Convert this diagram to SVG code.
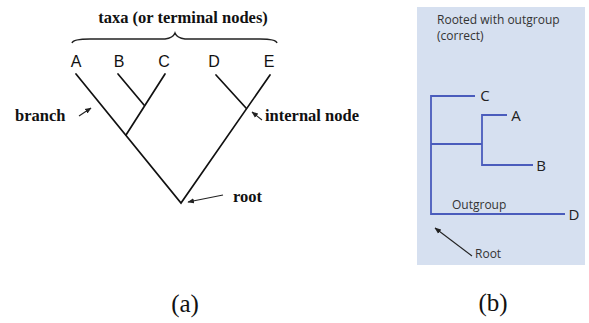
<svg xmlns="http://www.w3.org/2000/svg" width="589" height="323" viewBox="0 0 589 323">
<style>
.serifb{font-family:"Liberation Serif","Times New Roman",serif;font-weight:bold;font-size:16.5px;fill:#111}
.tax{font-family:"Liberation Sans",Arial,sans-serif;font-size:16px;fill:#111;text-anchor:middle}
.tb{font-family:"Open Sans","DejaVu Sans",sans-serif;font-size:15px;fill:#222;text-anchor:middle}
.cap{font-family:"Liberation Serif","Times New Roman",serif;font-size:25px;fill:#111;text-anchor:middle}
.bl{font-family:"Open Sans","DejaVu Sans",sans-serif;font-size:12px;fill:#333}
.br{stroke:#111;stroke-width:1.7;fill:none;stroke-linecap:round}
.bt{stroke:#4a5cbc;stroke-width:1.8;fill:none}
.ar{stroke:#222;stroke-width:1.1;fill:none}
</style>
<defs>
<marker id="ah" viewBox="0 0 10 10" refX="9" refY="5" markerWidth="6" markerHeight="6" orient="auto-start-reverse">
<path d="M0,1 L10,5 L0,9 z" fill="#222"/>
</marker>
</defs>
<rect width="589" height="323" fill="#fff"/>
<g id="panel-a">
<text class="serifb" x="183" y="23" text-anchor="middle">taxa (or terminal nodes)</text>
<path d="M72,43 Q73,39 90,39 L165,39 Q173,38 175,33 Q177,38 185,39 L260,39 Q276,39 277,43" stroke="#222" stroke-width="1.4" fill="none"/>
<g id="taxa">
<text class="tax" x="76" y="67">A</text>
<text class="tax" x="119" y="67">B</text>
<text class="tax" x="164" y="67">C</text>
<text class="tax" x="214" y="67">D</text>
<text class="tax" x="269" y="67">E</text>
</g>
<g id="tree-a">
<path class="br" d="M76,74 L181,203 L270,75"/>
<path class="br" d="M118,74 L144,105"/>
<path class="br" d="M165,74 L126,135"/>
<path class="br" d="M216,75 L246,108"/>
</g>
<text class="serifb" x="15" y="121">branch</text>
<text class="serifb" x="265" y="121">internal node</text>
<text class="serifb" x="233" y="202">root</text>
<g id="arrows-a">
<line class="ar" x1="79" y1="116" x2="91" y2="108" marker-end="url(#ah)"/>
<line class="ar" x1="262" y1="120" x2="252" y2="112" marker-end="url(#ah)"/>
<line class="ar" x1="223" y1="195" x2="188" y2="202" marker-end="url(#ah)"/>
</g>
<text class="cap" x="185" y="312">(a)</text>
</g>
<g id="panel-b">
<rect x="417" y="7" width="168" height="258" fill="#d6e0f0"/>
<text class="bl" x="437" y="24">Rooted with outgroup</text>
<text class="bl" x="437" y="40">(correct)</text>
<g id="tree-b">
<path class="bt" d="M475,96 L431,96 L431,214 L565,214"/>
<path class="bt" d="M431,144 L482,144"/>
<path class="bt" d="M507,115 L482,115 L482,165 L533,165"/>
</g>
<text class="tb" x="485" y="101">C</text>
<text class="tb" x="516" y="121">A</text>
<text class="tb" x="541" y="171">B</text>
<text class="tb" x="574" y="220">D</text>
<text class="bl" x="452" y="209">Outgroup</text>
<line class="ar" x1="472" y1="256" x2="435" y2="228" marker-end="url(#ah)"/>
<text class="bl" x="475" y="258">Root</text>
<text class="cap" x="493" y="311">(b)</text>
</g>
</svg>
